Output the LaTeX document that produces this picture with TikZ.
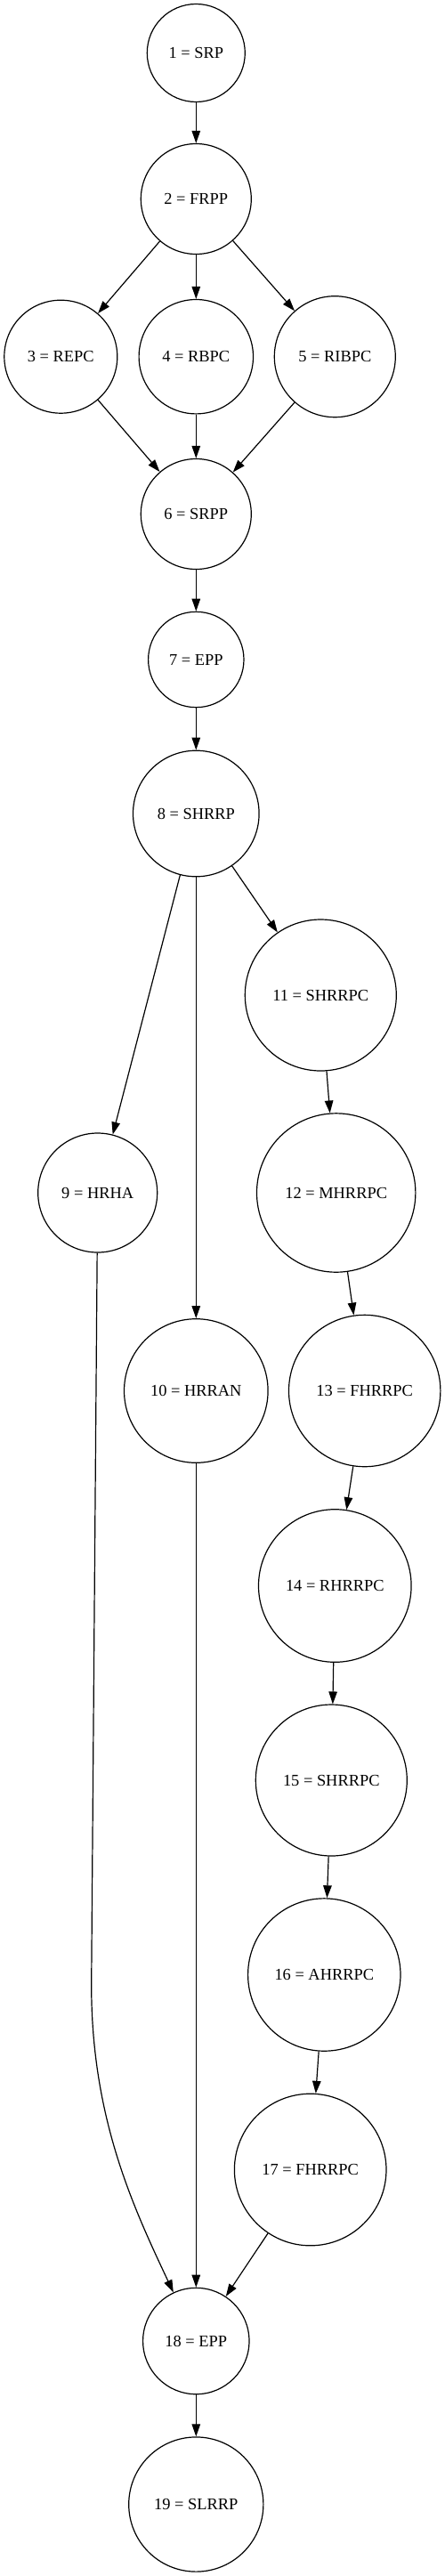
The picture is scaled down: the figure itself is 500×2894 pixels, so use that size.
\documentclass[tikz,border=0pt]{standalone}
\usepackage{fontspec}
\setmainfont{Liberation Serif}
\usetikzlibrary{arrows.meta}

\begin{document}
\begin{tikzpicture}[x=1pt, y=-1pt]
		
		\tikzset{stage/.style={
				circle, draw,
				line width=1.2pt,
				minimum size=#1,
				inner sep=0pt,
				font=\fontsize{18.4}{22}\selectfont
			},
			stage/.default=124pt,
			flow/.style={line width=1.2pt, -{Triangle[length=14pt, width=9.5pt]}}
		}
		
		\useasboundingbox (0,0) rectangle (500,2894);
		
		\node[stage=110pt] (n1) at (220.3,59.5) {1 = SRP};
		\node[stage] (n2) at (220.3,223.5) {2 = FRPP};
		\node[stage=127pt] (n3) at (68.3,400.7) {3 = REPC};
		\node[stage=128.4pt] (n4) at (220.3,400.7) {4 = RBPC};
		\node[stage=136pt] (n5) at (376.3,400.7) {5 = RIBPC};
		\node[stage] (n6) at (220.3,577.5) {6 = SRPP};
		\node[stage=107.4pt] (n7) at (220.3,741) {7 = EPP};
		\node[stage=141.6pt] (n8) at (220.3,914) {8 = SHRRP};
		\node[stage=134pt] (n9) at (109.7,1340) {9 = HRHA};
		\node[stage=161.6pt] (n10) at (220.3,1562.5) {10 = HRRAN};
		\node[stage=170pt] (n11) at (360.3,1118) {11 = SHRRPC};
		\node[stage=178.4pt] (n12) at (377.7,1340) {12 = MHRRPC};
		\node[stage=170.4pt] (n13) at (409.7,1562.5) {13 = FHRRPC};
		\node[stage=171.6pt] (n14) at (376.3,1781.5) {14 = RHRRPC};
		\node[stage=170pt] (n15) at (372.3,2000) {15 = SHRRPC};
		\node[stage=171.4pt] (n16) at (364.3,2218.5) {16 = AHRRPC};
		\node[stage=170.6pt] (n17) at (348.7,2437.5) {17 = FHRRPC};
		\node[stage=119.4pt] (n18) at (220.3,2630) {18 = EPP};
		\node[stage=151.2pt] (n19) at (220.3,2813.5) {19 = SLRRP};
		
		\draw[flow] (n1) -- (n2);
		\draw[flow] (n2) -- (n3);
		\draw[flow] (n2) -- (n4);
		\draw[flow] (n2) -- (n5);
		\draw[flow] (n3) -- (n6);
		\draw[flow] (n4) -- (n6);
		\draw[flow] (n5) -- (n6);
		\draw[flow] (n6) -- (n7);
		\draw[flow] (n7) -- (n8);
		\draw[flow] (n8) -- (n9);
		\draw[flow] (n8) -- (n10);
		\draw[flow] (n8) -- (n11);
		\draw[flow] (n11) -- (n12);
		\draw[flow] (n12) -- (n13);
		\draw[flow] (n13) -- (n14);
		\draw[flow] (n14) -- (n15);
		\draw[flow] (n15) -- (n16);
		\draw[flow] (n16) -- (n17);
		\draw[flow] (n17) -- (n18);
		\draw[flow] (n10) -- (n18);
		\coordinate (bend9) at (102.7,2230);
		\draw[flow] (n9) -- (bend9) .. controls (102.7,2380) and (150,2480) .. (n18.115);
		\draw[flow] (n18) -- (n19);
		
\end{tikzpicture}
\end{document}
